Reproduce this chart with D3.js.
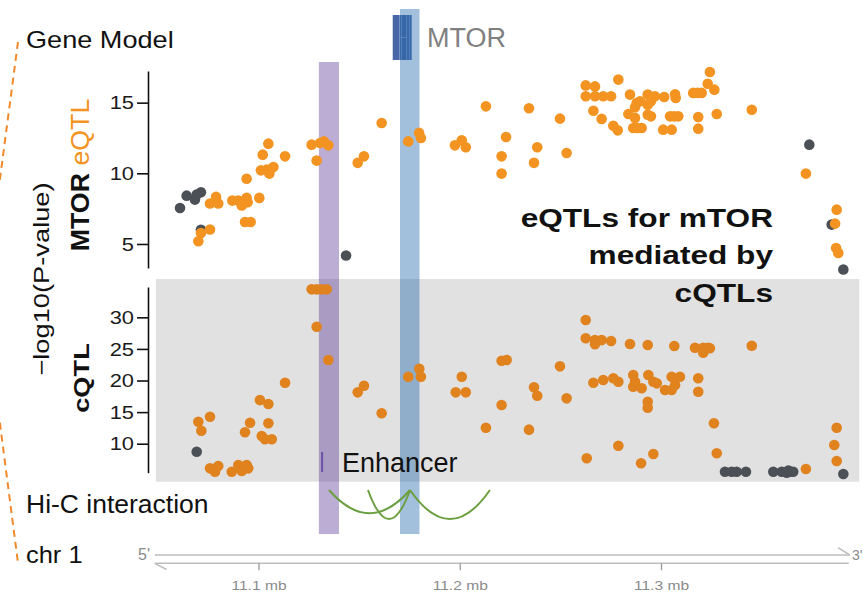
<!DOCTYPE html>
<html>
<head>
<meta charset="utf-8">
<script src="https://cdn.jsdelivr.net/npm/d3@7"></script>
<style>
body { margin: 0; background: #fff; }
text { font-family: "Liberation Sans", Arial, Helvetica, sans-serif; }
</style>
</head>
<body>
<svg id="chart" width="863" height="594"></svg>
<script>
// positions in kb on chr1, values are -log10(P)
const eqtlMediated = [
  [11070.1,5.19],[11071.4,5.78],[11075.9,6.02],[11075.9,7.86],[11078.9,8.33],[11080.0,7.86],
  [11087.0,8.07],[11090.0,8.07],[11091.7,7.72],[11094.1,8.26],[11094.6,7.95],[11094.1,9.62],[11093.3,6.56],[11096.1,6.56],
  [11100.4,8.26],[11102.1,11.32],[11104.9,12.10],[11101.2,10.21],[11104.1,10.26],[11105.4,9.98],[11107.4,10.45],
  [11113.2,11.20],[11126.4,12.03],[11128.9,10.90],[11130.6,12.15],[11132.5,12.26],[11134.7,11.98],
  [11149.3,10.74],[11152.4,11.20],[11161.2,13.56],[11174.4,12.26],[11179.8,12.86],[11180.7,12.50],
  [11197.6,11.98],[11201.0,12.34],[11203.0,11.84],[11213.0,14.74],[11223.0,12.57],[11220.8,11.20],[11220.8,9.98],
  [11234.4,14.60],[11238.5,11.84],[11236.9,10.74],[11249.8,13.87],[11253.1,11.44],
  [11262.6,16.22],[11267.2,16.15],[11278.8,16.63],[11324.3,17.17],
  [11262.6,15.45],[11267.2,15.45],[11271.3,15.45],[11275.2,15.45],[11284.6,15.57],[11293.4,15.57],[11297.0,15.45],[11301.6,15.40],
  [11307.0,15.60],[11307.3,15.33],[11316.0,15.69],[11318.2,15.69],[11320.2,15.69],[11323.2,16.34],[11326.5,15.92],
  [11266.4,14.43],[11270.5,13.85],[11276.3,13.37],[11278.5,13.04],[11287.9,14.98],[11289.6,15.10],[11287.1,14.67],
  [11283.8,14.20],[11287.1,13.92],[11293.4,14.86],[11295.0,15.10],[11293.4,14.15],[11295.0,14.03],
  [11286.2,13.21],[11288.3,13.21],[11290.4,13.21],[11301.1,13.09],[11305.3,13.09],[11304.5,14.03],[11306.6,14.03],[11308.6,14.03],
  [11318.5,13.99],[11318.5,13.16],[11327.7,14.20],[11345.1,14.50],
  [11372.0,9.98],[11387.3,7.43],[11386.5,6.44],[11387.0,4.72],[11388.1,4.37]
];
const eqtlOther = [
  [11061.0,7.55],[11064.3,8.42],[11068.4,8.14],[11069.3,8.50],[11071.4,8.66],[11071.4,6.00],
  [11143.5,4.18],[11373.7,12.03],[11384.8,6.37],[11390.6,3.19]
];
const cqtlMediated = [
  [11070.1,13.48],[11071.6,12.06],[11075.9,14.27],[11075.9,6.10],[11078.4,5.57],[11080.0,6.47],
  [11086.7,5.57],[11090.0,6.63],[11091.7,5.68],[11094.1,6.63],[11094.9,6.10],[11093.3,11.80],[11095.8,13.32],
  [11100.7,16.90],[11104.9,16.28],[11104.9,13.23],[11101.6,11.22],[11103.2,10.70],[11106.6,10.70],
  [11113.2,19.65],[11126.4,34.43],[11128.9,34.43],[11131.4,34.43],[11133.9,34.43],[11128.9,28.51],[11134.7,23.24],
  [11149.3,18.13],[11152.4,19.18],[11161.2,14.81],[11174.4,20.60],[11179.9,21.87],[11180.7,20.60],
  [11198.0,18.13],[11201.0,20.60],[11203.0,18.13],[11213.0,12.53],[11220.8,23.13],[11223.3,23.24],[11220.8,16.12],
  [11234.4,12.22],[11236.9,18.92],[11238.5,17.60],[11249.8,22.24],[11253.1,17.18],
  [11263.1,7.69],[11278.8,9.68],[11290.1,6.90],[11296.2,8.37],
  [11262.6,29.57],[11262.6,26.68],[11267.2,26.40],[11267.2,25.73],[11270.5,26.40],[11275.2,26.25],[11284.6,25.78],[11293.4,25.62],
  [11306.6,25.46],[11316.9,25.19],[11321.0,25.19],[11323.5,25.19],[11321.0,24.40],[11324.3,25.10],[11345.1,25.50],
  [11266.4,19.65],[11271.3,20.08],[11276.3,20.35],[11278.8,19.80],[11286.2,20.87],[11287.1,19.81],[11286.2,19.02],[11290.4,18.77],
  [11293.7,20.87],[11296.2,19.81],[11297.9,19.55],[11302.0,18.50],[11305.3,18.50],[11305.3,20.60],[11309.4,20.60],[11307.0,19.29],
  [11318.5,20.35],[11318.5,18.23],[11293.4,16.65],[11293.4,15.70],
  [11326.3,13.23],[11327.7,8.48],[11372.0,6.00],[11387.3,12.53],[11386.1,9.80],[11387.3,7.26]
];
const cqtlOther = [
  [11069.3,8.73],[11331.8,5.57],[11335.1,5.57],[11337.6,5.57],[11342.2,5.57],[11355.8,5.57],
  [11360.0,5.57],[11362.5,5.40],[11363.3,5.75],[11364.1,5.57],[11365.7,5.57],[11390.6,5.20]
];

const viewRange = [11049, 11398.5];
const rulerRange = [11048.5, 11393.8];
const enhancerRange = [11130.0, 11140.0];
const enhancerMark = [11131.6];
const geneRange = [11166.7, 11176.1];
const geneGaps = [11170.1, 11171.1, 11173.6, 11175.0];
const mtorBand = [11170.3, 11180.0];
const hicLinks = [[11135.0, 11175.3], [11154.4, 11175.3], [11175.3, 11215.0]];
const hicStrength = [0.8, 1.0, 1.0];
const topTicks = [5, 10, 15];
const bottomTicks = [10, 15, 20, 25, 30];
const rulerTicks = [11100, 11200, 11300];

const svg = d3.select("#chart");

const x = d3.scaleLinear().domain([11100, 11300]).range([258.5, 661]);
const yTop = d3.scaleLinear().domain([3.3, 17.24]).range([268, 71]);
const yBot = d3.scaleLinear().domain([5.41, 34.8]).range([472.7, 287]);
const depth = d3.scaleLinear().domain([0, 1]).range([0, 29]);

const orange = "#f39321", orangeDark = "#e0821e", darkGrey = "#4b5056";

function label(str, px, py, size, sx, opts = {}) {
  return svg.append("text")
    .attr("transform", "translate(" + px + "," + py + ")" + (opts.rotate ? " rotate(-90)" : "") + " scale(" + sx + ",1)")
    .attr("font-size", size)
    .attr("text-anchor", opts.anchor || "start")
    .attr("font-weight", opts.bold ? "bold" : null)
    .attr("fill", opts.fill || "#111")
    .text(str);
}

// dashed bracket on the left
svg.append("path")
  .attr("d", "M18,42 L-16,300 L18,563")
  .attr("fill", "none")
  .attr("stroke", "#f0892a")
  .attr("stroke-width", 2)
  .attr("stroke-dasharray", "7,5");

// grey background of cQTL panel
svg.append("rect")
  .attr("x", x(viewRange[0]))
  .attr("width", x(viewRange[1]) - x(viewRange[0]))
  .attr("y", 279)
  .attr("height", 202.7)
  .attr("fill", "#e1e1e1");

// gene model
svg.append("rect")
  .attr("x", x(geneRange[0]))
  .attr("width", x(geneRange[1]) - x(geneRange[0]))
  .attr("y", 15).attr("height", 45)
  .attr("fill", "#4767a6");
svg.selectAll(".gap").data(geneGaps).enter().append("line")
  .attr("x1", d => x(d)).attr("x2", d => x(d))
  .attr("y1", 15).attr("y2", 60)
  .attr("stroke", "#7c97c9").attr("stroke-width", 1);
svg.append("line")
  .attr("x1", x(geneGaps[0])).attr("x2", x(geneGaps[2]))
  .attr("y1", 37.5).attr("y2", 37.5)
  .attr("stroke", "#7c97c9").attr("stroke-width", 1);

// highlight bands
const bands = [
  {range: enhancerRange, top: 62, color: "#5e3c99"},
  {range: mtorBand, top: 9, color: "#2166ac"}
];
svg.selectAll(".band").data(bands).enter().append("rect")
  .attr("class", "band")
  .attr("x", d => x(d.range[0]))
  .attr("width", d => x(d.range[1]) - x(d.range[0]))
  .attr("y", d => d.top)
  .attr("height", d => 534 - d.top)
  .attr("fill", d => d.color)
  .attr("opacity", 0.42);

// points
function drawPoints(data, y, color) {
  svg.append("g").selectAll("circle").data(data).enter().append("circle")
    .attr("cx", d => x(d[0]))
    .attr("cy", d => y(d[1]))
    .attr("r", 5.3)
    .attr("fill", color);
}
drawPoints(eqtlOther, yTop, darkGrey);
drawPoints(eqtlMediated, yTop, orange);
drawPoints(cqtlOther, yBot, darkGrey);
drawPoints(cqtlMediated, yBot, orangeDark);

// y axes
function styleAxis(g) {
  g.select(".domain").attr("stroke", "#111").attr("stroke-width", 1.6);
  g.selectAll(".tick line").attr("stroke", "#111").attr("stroke-width", 1.6);
  g.selectAll(".tick text")
    .attr("font-size", 19)
    .attr("fill", "#1a1a1a")
    .attr("x", -14 / 1.15)
    .attr("transform", "scale(1.15,1)");
}
svg.append("g").attr("transform", "translate(148,0)")
  .call(d3.axisLeft(yTop).tickValues(topTicks).tickSize(11).tickSizeOuter(0).tickPadding(3))
  .call(styleAxis);
svg.append("g").attr("transform", "translate(148,0)")
  .call(d3.axisLeft(yBot).tickValues(bottomTicks).tickSize(11).tickSizeOuter(0).tickPadding(3))
  .call(styleAxis);

// axis titles
label("\u2212log10(P-value)", 49, 279, 22, 1.24, {rotate: true, anchor: "middle"});
const eqtlTitle = label("", 89, 175, 25, 1.07, {rotate: true, anchor: "middle"});
eqtlTitle.append("tspan").attr("font-weight", "bold").text("MTOR");
eqtlTitle.append("tspan").attr("fill", orange).text(" eQTL");
label("cQTL", 89, 378, 22.5, 1.21, {rotate: true, anchor: "middle", bold: true});

// track labels
label("Gene Model", 26, 48, 24, 1.13);
label("MTOR", 427, 47, 27, 1.0, {fill: "#808080"});
label("Hi-C interaction", 26, 513, 25, 1.06);
label("chr 1", 26, 563, 24, 1.06);
label("Enhancer", 342, 472, 27, 1.0);

// enhancer mark
svg.selectAll(".enh").data(enhancerMark).enter().append("line")
  .attr("x1", d => x(d)).attr("x2", d => x(d))
  .attr("y1", 452).attr("y2", 472)
  .attr("stroke", "#6a4fa6").attr("stroke-width", 2);

// annotation
["eQTLs for mTOR", "mediated by", "cQTLs"].forEach((s, i) => {
  label(s, 773, 227 + i * 37.3, 25.5, 1.24, {anchor: "end", bold: true});
});

// Hi-C arcs
const arcTop = 490;
svg.append("g").selectAll("path").data(hicLinks).enter().append("path")
  .attr("d", (d, i) => {
    const x1 = x(d[0]), x2 = x(d[1]);
    return "M" + x1 + "," + arcTop + " Q" + (x1 + x2) / 2 + "," + (arcTop + 2 * depth(hicStrength[i])) + " " + x2 + "," + arcTop;
  })
  .attr("fill", "none")
  .attr("stroke", "#6c9f3f")
  .attr("stroke-width", 2);

// genome ruler
const ruler = svg.append("g").attr("stroke", "#bdbdbd").attr("stroke-width", 1.5).attr("fill", "none");
ruler.append("line")
  .attr("x1", x(rulerRange[0])).attr("x2", x(rulerRange[1]))
  .attr("y1", 555).attr("y2", 555);
ruler.append("line")
  .attr("x1", x(rulerRange[0])).attr("x2", x(rulerRange[1]) - 1)
  .attr("y1", 563.3).attr("y2", 563.3);
ruler.append("line")
  .attr("x1", x(rulerRange[1]) - 11.7).attr("y1", 547.7)
  .attr("x2", x(rulerRange[1])).attr("y2", 555);
ruler.append("line")
  .attr("x1", x(rulerRange[0])).attr("y1", 563.3)
  .attr("x2", x(rulerRange[0]) + 11.7).attr("y2", 569.5);

const rulerAxis = svg.append("g").attr("transform", "translate(0,563.3)")
  .call(d3.axisBottom(x).tickValues(rulerTicks)
    .tickFormat(d => d3.format(".1f")(d / 1000) + " mb")
    .tickSize(7).tickPadding(10));
rulerAxis.select(".domain").remove();
rulerAxis.selectAll(".tick line").attr("stroke", "#9a9a9a").attr("stroke-width", 1.3);
rulerAxis.selectAll(".tick text")
  .attr("font-size", 13)
  .attr("fill", "#8a8a8a")
  .attr("transform", "scale(1.2,1)");

label("5'", 150, 560, 16, 1.0, {anchor: "end", fill: "#8a8a8a"});
label("3'", 852, 560, 14, 1.0, {fill: "#8a8a8a"});
</script>
</body>
</html>
